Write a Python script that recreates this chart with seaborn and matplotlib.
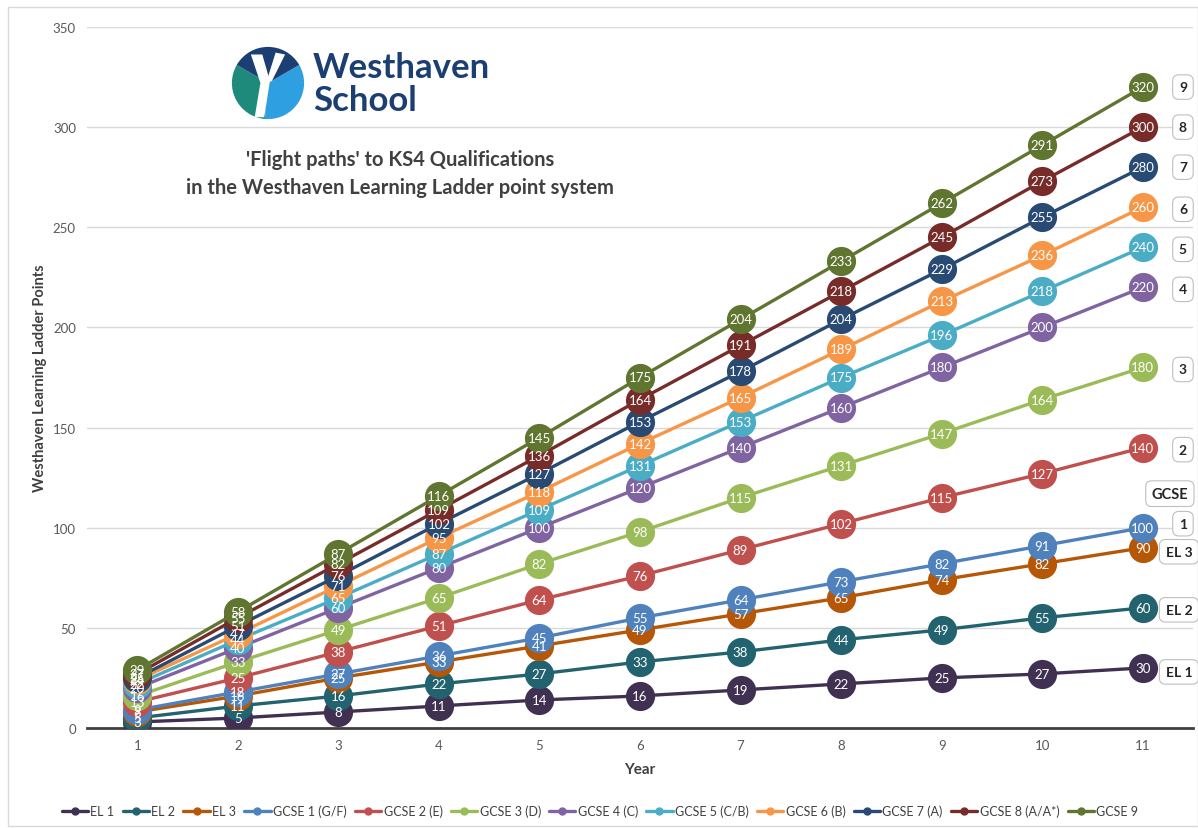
import matplotlib
matplotlib.use("Agg")
import matplotlib.pyplot as plt
from matplotlib.patches import Wedge, Polygon, Rectangle
import seaborn as sns
import pandas as pd

years = [1, 2, 3, 4, 5, 6, 7, 8, 9, 10, 11]
series_names = ["EL 1", "EL 2", "EL 3", "GCSE 1 (G/F)", "GCSE 2 (E)", "GCSE 3 (D)",
                "GCSE 4 (C)", "GCSE 5 (C/B)", "GCSE 6 (B)", "GCSE 7 (A)", "GCSE 8 (A/A*)", "GCSE 9"]
el1 = [3, 5, 8, 11, 14, 16, 19, 22, 25, 27, 30]
el2 = [5, 11, 16, 22, 27, 33, 38, 44, 49, 55, 60]
el3 = [8, 16, 25, 33, 41, 49, 57, 65, 74, 82, 90]
gcse1 = [9, 18, 27, 36, 45, 55, 64, 73, 82, 91, 100]
gcse2 = [13, 25, 38, 51, 64, 76, 89, 102, 115, 127, 140]
gcse3 = [16, 33, 49, 65, 82, 98, 115, 131, 147, 164, 180]
gcse4 = [20, 40, 60, 80, 100, 120, 140, 160, 180, 200, 220]
gcse5 = [22, 44, 65, 87, 109, 131, 153, 175, 196, 218, 240]
gcse6 = [24, 47, 71, 95, 118, 142, 165, 189, 213, 236, 260]
gcse7 = [25, 51, 76, 102, 127, 153, 178, 204, 229, 255, 280]
gcse8 = [27, 55, 82, 109, 136, 164, 191, 218, 245, 273, 300]
gcse9 = [29, 58, 87, 116, 145, 175, 204, 233, 262, 291, 320]
all_values = [el1, el2, el3, gcse1, gcse2, gcse3, gcse4, gcse5, gcse6, gcse7, gcse8, gcse9]
colors = ["#403152", "#22636F", "#B65708", "#4F81BD", "#C0504D", "#9BBB59",
          "#8064A2", "#4BACC6", "#F79646", "#284A73", "#772C2A", "#5F7530"]
side_labels = ["EL 1", "EL 2", "EL 3", "1", "2", "3", "4", "5", "6", "7", "8", "9"]
side_label_y = [28, 59, 88, 102, 139, 179, 219, 239, 259, 280, 300, 320]

sns.set_theme(style="white")
plt.rcParams['font.family'] = ['Lato', 'DejaVu Sans']

rows = []
for name, vals in zip(series_names, all_values):
    for y, v in zip(years, vals):
        rows.append({"Year": y, "Points": v, "Series": name})
df = pd.DataFrame(rows)

fig = plt.figure(figsize=(11.98, 8.29), dpi=100)
fig.patches.append(Rectangle((8 / 1198, 0.002), 1 - 8 / 1198, 1 - 8 / 829 - 0.002,
                             transform=fig.transFigure, fill=False, ec="#D9D9D9", lw=1))
ax = fig.add_axes([87 / 1198, 100 / 829, 1106 / 1198, 701 / 829])

for i, (name, col) in enumerate(zip(series_names, colors)):
    sub = df[df["Series"] == name]
    sns.lineplot(data=sub, x="Year", y="Points", color=col, ax=ax, linewidth=2.4,
                 marker="o", markersize=21, markeredgewidth=0, label=name,
                 zorder=3 + i, legend=False)
    for x, v in zip(sub["Year"], sub["Points"]):
        ax.text(x, v, str(v), color="white", fontsize=9.5, ha="center", va="center",
                zorder=30 + i)

ax.set_xlim(0.5, 11.5)
ax.set_ylim(0, 350)
ax.set_yticks(range(0, 351, 50))
ax.set_xticks(years)
ax.grid(axis="y", color="#D9D9D9", linewidth=1)
ax.set_axisbelow(True)
for s in ["top", "right", "left"]:
    ax.spines[s].set_visible(False)
ax.spines["bottom"].set_color("#404040")
ax.spines["bottom"].set_linewidth(2)
ax.tick_params(axis="both", colors="#595959", labelsize=9.5, length=0, pad=8)
ax.set_xlabel("Year", fontsize=11, fontweight="bold", color="#404040", labelpad=8)
ax.set_ylabel("Westhaven Learning Ladder Points", fontsize=10.5, fontweight="bold",
              color="#404040", labelpad=4)

# side labels
for lab, yv in zip(side_labels, side_label_y):
    xpos = 11.40 if len(lab) == 1 else 11.36
    ax.text(xpos, yv, lab, fontsize=10, fontweight="bold", color="#262626",
            ha="center", va="center", zorder=50, clip_on=False,
            bbox=dict(boxstyle="round,pad=0.45", fc="white", ec="#BFBFBF", lw=0.8))
ax.text(11.27, 117, "GCSE", fontsize=10.5, fontweight="bold", color="#262626",
        ha="center", va="center", zorder=50, clip_on=False,
        bbox=dict(boxstyle="round,pad=0.4", fc="white", ec="#BFBFBF", lw=0.8))

# title
fig.text(400 / 1198, 1 - 174 / 829,
         "'Flight paths' to KS4 Qualifications\nin the Westhaven Learning Ladder point system",
         ha="center", va="center", fontsize=14.5, fontweight="bold", color="#404040",
         linespacing=1.45)

# logo
lax = fig.add_axes([230 / 1198, 1 - 122 / 829, 76 / 1198, 76 / 829])
lax.set_xlim(-1, 1)
lax.set_ylim(-1, 1)
lax.set_aspect("equal")
lax.axis("off")
lax.add_patch(Wedge((0, 0), 0.95, 150, 265, fc="#1E8A7C", ec="none"))
lax.add_patch(Wedge((0, 0), 0.95, 265, 360 + 30, fc="#2E9FE0", ec="none"))
lax.add_patch(Wedge((0, 0), 0.95, 30, 150, fc="#1B3F73", ec="none"))
lax.add_patch(Polygon([(-0.45, 0.75), (-0.15, 0.75), (0.05, 0.05), (-0.1, -0.9),
                       (-0.35, -0.9), (-0.2, 0.0)], fc="white", ec="none"))
lax.add_patch(Polygon([(0.2, 0.8), (0.45, 0.75), (0.1, 0.05), (-0.05, 0.0)],
                      fc="white", ec="none"))
fig.text(313 / 1198, 1 - 68 / 829, "Westhaven", fontsize=25, fontweight="bold",
         color="#1B3F73", ha="left", va="center")
fig.text(313 / 1198, 1 - 101 / 829, "School", fontsize=25, fontweight="bold",
         color="#1B3F73", ha="left", va="center")

# legend
handles = [plt.Line2D([0], [0], color=c, lw=2.4, marker="o", markersize=5) for c in colors]
fig.legend(handles, series_names, loc="center", bbox_to_anchor=(600 / 1198, 17 / 829),
           ncol=12, frameon=False, fontsize=9, handlelength=2.1, handletextpad=0.2,
           columnspacing=0.65, labelcolor="#404040")

fig.savefig("out.png", dpi=100)
